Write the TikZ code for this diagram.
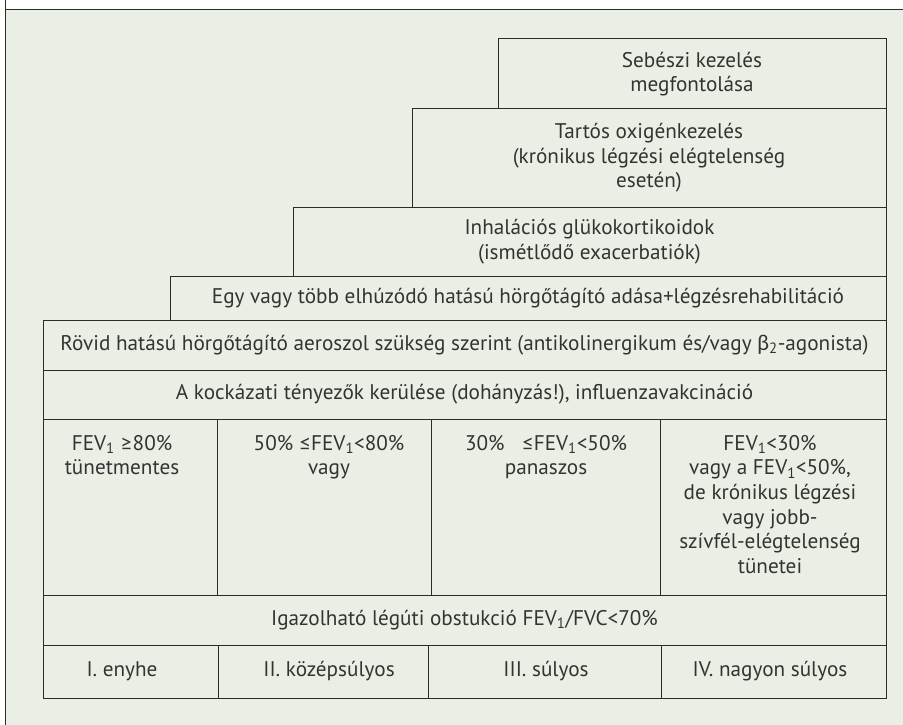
\documentclass[tikz,border=0pt]{standalone}
\usepackage{fontspec}
\setmainfont{PT Sans}
\newfontfamily\grk{Lato}
\definecolor{bgc}{HTML}{EAEFE6}
\definecolor{linec}{HTML}{2B2B2B}
\definecolor{txtc}{HTML}{333333}
\begin{document}
\begin{tikzpicture}[x=1pt,y=-1pt,
  every node/.style={font=\fontsize{21.2}{24.6}\selectfont, text=txtc},
  box/.style={draw=linec, line width=1pt, inner sep=0pt, outer sep=0pt, anchor=north west, align=center},
  ctext/.style={anchor=north, align=center, inner sep=0pt}]
\useasboundingbox (0,0) rectangle (903,725);
\fill[white] (0,0) rectangle (903,725);
\fill[bgc] (5,9) rectangle (903,725);
\draw[linec, line width=0.8pt] (5,0) -- (5,725);
\draw[linec, line width=0.8pt] (5,9) -- (903,9);
% staircase
\node[box, minimum width=388pt, minimum height=70pt] (seb) at (498,39) {Sebészi kezelés\\megfontolása};
\node[box, minimum width=474pt, minimum height=98pt] (oxi) at (412,109) {Tartós oxigénkezelés\\(krónikus légzési elégtelenség\\esetén)};
\node[box, minimum width=593pt, minimum height=69pt] (inh) at (293,207) {Inhalációs glükokortikoidok\\(ismétlődő exacerbatiók)};
\node[box, minimum width=716pt, minimum height=44pt] (egy) at (170,276) {Egy vagy több elhúzódó hatású hörgőtágító adása+légzésrehabilitáció};
\node[box, minimum width=843pt, minimum height=50pt] (rov) at (43,320) {Rövid hatású hörgőtágító aeroszol szükség szerint (antikolinergikum és/vagy {\grk β}\textsubscript{2}-agonista)};
\node[box, minimum width=843pt, minimum height=49pt] (koc) at (43,370) {A kockázati tényezők kerülése (dohányzás!), influenzavakcináció};
% FEV row
\node[box, minimum width=174pt, minimum height=176pt] (f1) at (43,419) {};
\node[box, minimum width=214pt, minimum height=176pt] (f2) at (217,419) {};
\node[box, minimum width=229pt, minimum height=176pt] (f3) at (431,419) {};
\node[box, minimum width=226pt, minimum height=176pt] (f4) at (660,419) {};
\node[ctext] (f1t) at (122,435) {FEV\textsubscript{1} {\grk ≥}80\%\\tünetmentes};
\node[ctext] (f2t) at (329,435) {50\% {\grk ≤}FEV\textsubscript{1}<80\%\\vagy};
\node[ctext] (f3t) at (546,435) {30\%\ \ \ {\grk ≤}FEV\textsubscript{1}<50\%\\panaszos};
\node[ctext] (f4t) at (770,435) {FEV\textsubscript{1}<30\%\\vagy a FEV\textsubscript{1}<50\%,\\de krónikus légzési\\vagy jobb-\\szívfél-elégtelenség\\tünetei};
% obstruction
\node[box, minimum width=843pt, minimum height=50pt] (iga) at (43,595) {Igazolható légúti obstukció FEV\textsubscript{1}/FVC<70\%};
% stages
\node[box, minimum width=175pt, minimum height=53pt] (s1) at (43,645) {};
\node[box, minimum width=210pt, minimum height=53pt] (s2) at (218,645) {};
\node[box, minimum width=233pt, minimum height=53pt] (s3) at (428,645) {};
\node[box, minimum width=225pt, minimum height=53pt] (s4) at (661,645) {};
\node (s1t) at (122,671) {I. enyhe};
\node (s2t) at (329,671) {II. középsúlyos};
\node (s3t) at (546,671) {III. súlyos};
\node (s4t) at (770,671) {IV. nagyon súlyos};
\end{tikzpicture}
\end{document}
